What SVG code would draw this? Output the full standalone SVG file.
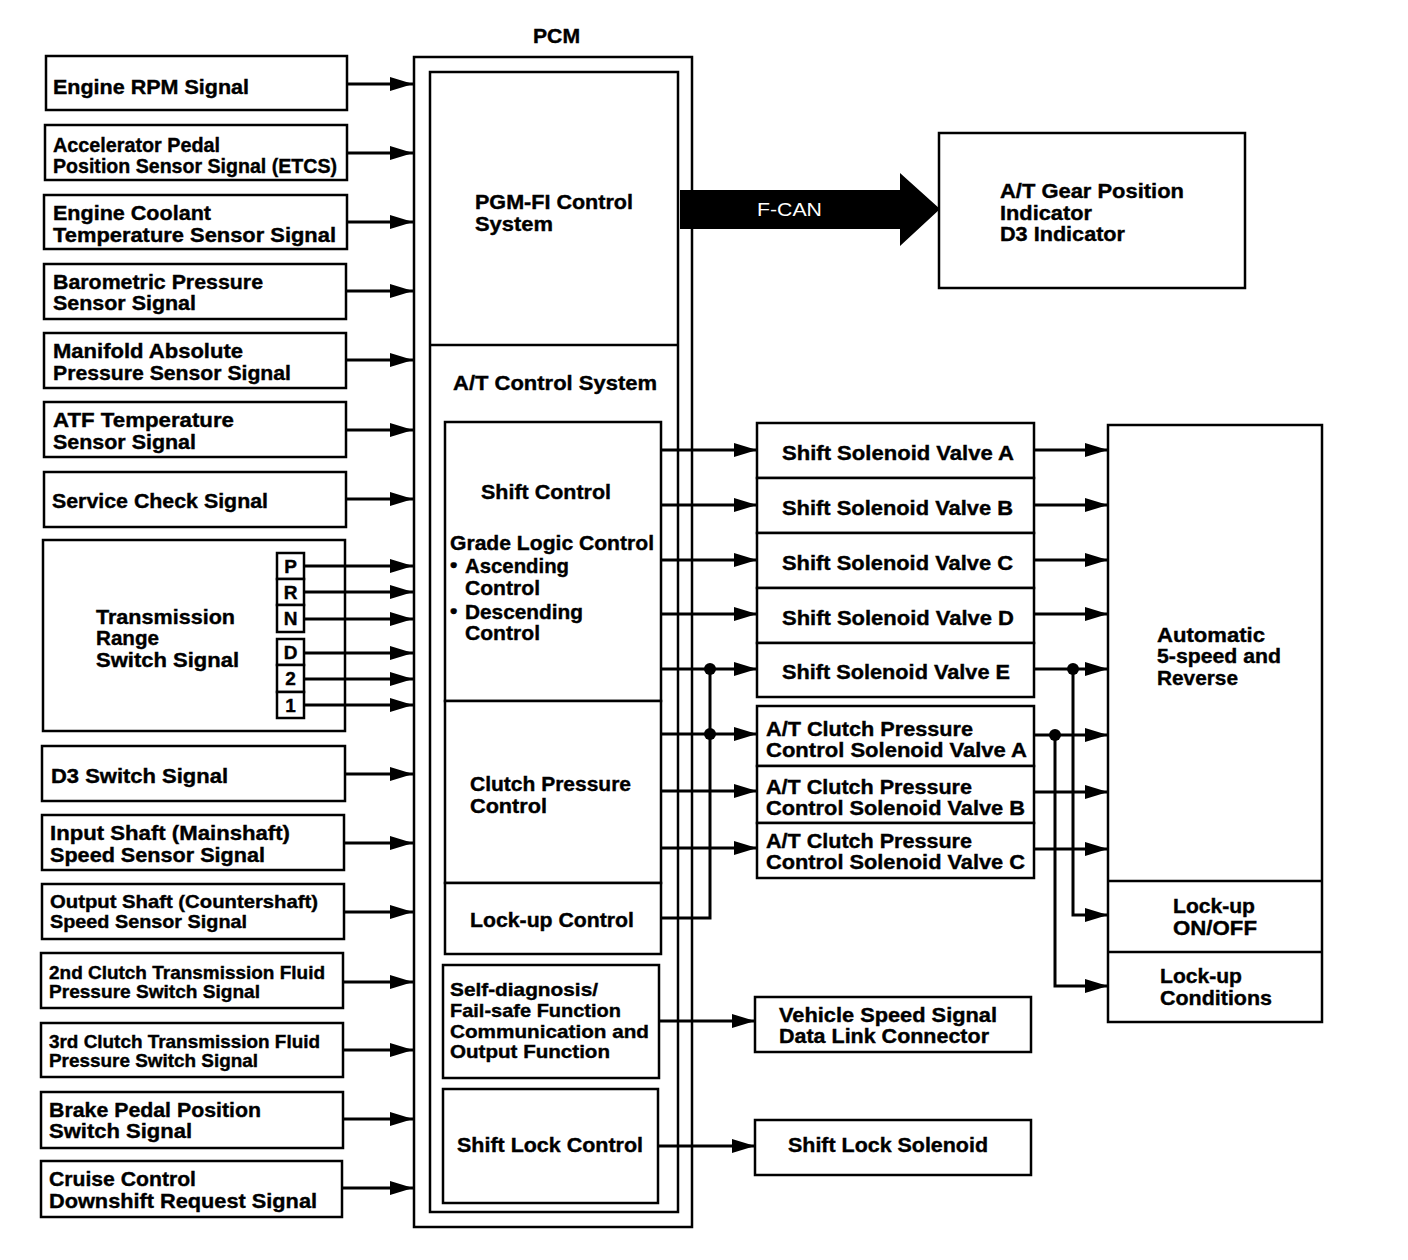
<svg xmlns="http://www.w3.org/2000/svg" width="1408" height="1260" viewBox="0 0 1408 1260">
<defs>
<style>
.box{fill:#fff;stroke:#000;stroke-width:2.5}
.ln{fill:none;stroke:#000;stroke-width:3}
.t{font-family:"Liberation Sans",Arial,Helvetica,sans-serif;font-weight:bold;font-size:21px;fill:#000;stroke:#000;stroke-width:0.4}
.s{font-size:19px}
.xs{font-size:18.5px}
.c{text-anchor:middle}
</style>
<marker id="ah" markerUnits="userSpaceOnUse" markerWidth="24" markerHeight="14" refX="23" refY="7" orient="auto">
<path d="M0,0 L23,7 L0,14 z" fill="#000"/>
</marker>
</defs>
<rect width="1408" height="1260" fill="#fff"/>

<!-- Left input nodes -->
<g id="n-engine-rpm"><rect class="box" x="46" y="56" width="301" height="54"/><text class="t" x="53" y="94" textLength="196" lengthAdjust="spacingAndGlyphs">Engine RPM Signal</text></g>
<g id="n-accel"><rect class="box" x="45" y="125" width="302" height="55"/><text class="t" x="53" y="152" textLength="167" lengthAdjust="spacingAndGlyphs">Accelerator Pedal</text><text class="t" x="53" y="173" textLength="284" lengthAdjust="spacingAndGlyphs">Position Sensor Signal (ETCS)</text></g>
<g id="n-coolant"><rect class="box" x="44" y="195" width="303" height="54"/><text class="t" x="53" y="220" textLength="158" lengthAdjust="spacingAndGlyphs">Engine Coolant</text><text class="t" x="53" y="242" textLength="283" lengthAdjust="spacingAndGlyphs">Temperature Sensor Signal</text></g>
<g id="n-baro"><rect class="box" x="44" y="264" width="302" height="55"/><text class="t" x="53" y="289" textLength="210" lengthAdjust="spacingAndGlyphs">Barometric Pressure</text><text class="t" x="53" y="310" textLength="143" lengthAdjust="spacingAndGlyphs">Sensor Signal</text></g>
<g id="n-map"><rect class="box" x="44" y="333" width="302" height="55"/><text class="t" x="53" y="358" textLength="190" lengthAdjust="spacingAndGlyphs">Manifold Absolute</text><text class="t" x="53" y="380" textLength="238" lengthAdjust="spacingAndGlyphs">Pressure Sensor Signal</text></g>
<g id="n-atf"><rect class="box" x="44" y="402" width="302" height="55"/><text class="t" x="53" y="427" textLength="181" lengthAdjust="spacingAndGlyphs">ATF Temperature</text><text class="t" x="53" y="449" textLength="143" lengthAdjust="spacingAndGlyphs">Sensor Signal</text></g>
<g id="n-service"><rect class="box" x="44" y="472" width="302" height="55"/><text class="t" x="52" y="508" textLength="216" lengthAdjust="spacingAndGlyphs">Service Check Signal</text></g>
<g id="n-trs"><rect class="box" x="43" y="540" width="302" height="191"/>
<text class="t" x="96" y="624" textLength="139" lengthAdjust="spacingAndGlyphs">Transmission</text><text class="t" x="96" y="645" textLength="63" lengthAdjust="spacingAndGlyphs">Range</text><text class="t" x="96" y="667" textLength="143" lengthAdjust="spacingAndGlyphs">Switch Signal</text>
<rect class="box" x="277" y="553" width="27" height="26"/><rect class="box" x="277" y="579" width="27" height="26"/><rect class="box" x="277" y="605" width="27" height="27"/>
<rect class="box" x="277" y="639" width="27" height="26"/><rect class="box" x="277" y="665" width="27" height="27"/><rect class="box" x="277" y="692" width="27" height="26"/>
<text class="t s c" x="290.5" y="573">P</text><text class="t s c" x="290.5" y="599">R</text><text class="t s c" x="290.5" y="625">N</text>
<text class="t s c" x="290.5" y="659">D</text><text class="t s c" x="290.5" y="685">2</text><text class="t s c" x="290.5" y="712">1</text></g>
<g id="n-d3"><rect class="box" x="42" y="746" width="303" height="55"/><text class="t" x="51" y="783" textLength="177" lengthAdjust="spacingAndGlyphs">D3 Switch Signal</text></g>
<g id="n-input"><rect class="box" x="42" y="815" width="302" height="55"/><text class="t" x="50" y="840" textLength="240" lengthAdjust="spacingAndGlyphs">Input Shaft (Mainshaft)</text><text class="t" x="50" y="862" textLength="215" lengthAdjust="spacingAndGlyphs">Speed Sensor Signal</text></g>
<g id="n-output"><rect class="box" x="42" y="884" width="302" height="55"/><text class="t s" x="50" y="908" textLength="268" lengthAdjust="spacingAndGlyphs">Output Shaft (Countershaft)</text><text class="t s" x="50" y="928" textLength="197" lengthAdjust="spacingAndGlyphs">Speed Sensor Signal</text></g>
<g id="n-2nd"><rect class="box" x="41" y="953" width="302" height="55"/><text class="t xs" x="49" y="979" textLength="276" lengthAdjust="spacingAndGlyphs">2nd Clutch Transmission Fluid</text><text class="t xs" x="49" y="998" textLength="211" lengthAdjust="spacingAndGlyphs">Pressure Switch Signal</text></g>
<g id="n-3rd"><rect class="box" x="41" y="1023" width="302" height="54"/><text class="t xs" x="49" y="1048" textLength="271" lengthAdjust="spacingAndGlyphs">3rd Clutch Transmission Fluid</text><text class="t xs" x="49" y="1067" textLength="209" lengthAdjust="spacingAndGlyphs">Pressure Switch Signal</text></g>
<g id="n-brake"><rect class="box" x="41" y="1092" width="302" height="56"/><text class="t" x="49" y="1117" textLength="212" lengthAdjust="spacingAndGlyphs">Brake Pedal Position</text><text class="t" x="49" y="1138" textLength="143" lengthAdjust="spacingAndGlyphs">Switch Signal</text></g>
<g id="n-cruise"><rect class="box" x="41" y="1161" width="301" height="56"/><text class="t" x="49" y="1186" textLength="147" lengthAdjust="spacingAndGlyphs">Cruise Control</text><text class="t" x="49" y="1208" textLength="268" lengthAdjust="spacingAndGlyphs">Downshift Request Signal</text></g>

<!-- PCM -->
<g id="n-pcm">
<text class="t" x="533" y="43" textLength="47" lengthAdjust="spacingAndGlyphs">PCM</text>
<rect class="box" x="414" y="57" width="278" height="1170"/>
<rect class="box" x="430" y="72" width="248" height="1140"/>
<line class="ln" x1="430" y1="345" x2="678" y2="345" style="stroke-width:2.5"/>
</g>
<g id="n-pgmfi"><text class="t" x="475" y="209" textLength="158" lengthAdjust="spacingAndGlyphs">PGM-FI Control</text><text class="t" x="475" y="231" textLength="78" lengthAdjust="spacingAndGlyphs">System</text></g>
<g id="n-atcs"><text class="t" x="453" y="390" textLength="204" lengthAdjust="spacingAndGlyphs">A/T Control System</text></g>
<g id="n-shiftctl"><rect class="box" x="445" y="422" width="216" height="279"/>
<text class="t" x="481" y="499" textLength="130" lengthAdjust="spacingAndGlyphs">Shift Control</text>
<text class="t" x="450" y="550" textLength="204" lengthAdjust="spacingAndGlyphs">Grade Logic Control</text>
<text class="t" x="450" y="572">•</text><text class="t" x="465" y="573" textLength="104" lengthAdjust="spacingAndGlyphs">Ascending</text>
<text class="t" x="465" y="595" textLength="75" lengthAdjust="spacingAndGlyphs">Control</text>
<text class="t" x="450" y="618">•</text><text class="t" x="465" y="619" textLength="118" lengthAdjust="spacingAndGlyphs">Descending</text>
<text class="t" x="465" y="640" textLength="75" lengthAdjust="spacingAndGlyphs">Control</text></g>
<g id="n-clutchctl"><rect class="box" x="445" y="701" width="216" height="182"/>
<text class="t" x="470" y="791" textLength="161" lengthAdjust="spacingAndGlyphs">Clutch Pressure</text><text class="t" x="470" y="813" textLength="77" lengthAdjust="spacingAndGlyphs">Control</text></g>
<g id="n-lockupctl"><rect class="box" x="445" y="883" width="216" height="71"/>
<text class="t" x="470" y="927" textLength="164" lengthAdjust="spacingAndGlyphs">Lock-up Control</text></g>
<g id="n-selfdiag"><rect class="box" x="443" y="965" width="216" height="113"/>
<text class="t s" x="450" y="996" textLength="148" lengthAdjust="spacingAndGlyphs">Self-diagnosis/</text>
<text class="t s" x="450" y="1017" textLength="171" lengthAdjust="spacingAndGlyphs">Fail-safe Function</text>
<text class="t s" x="450" y="1038" textLength="199" lengthAdjust="spacingAndGlyphs">Communication and</text>
<text class="t s" x="450" y="1058" textLength="160" lengthAdjust="spacingAndGlyphs">Output Function</text></g>
<g id="n-shiftlockctl"><rect class="box" x="443" y="1089" width="215" height="114"/>
<text class="t" x="457" y="1152" textLength="186" lengthAdjust="spacingAndGlyphs">Shift Lock Control</text></g>

<!-- Right output nodes -->
<g id="n-gear"><rect class="box" x="939" y="133" width="306" height="155"/>
<text class="t" x="1000" y="198" textLength="184" lengthAdjust="spacingAndGlyphs">A/T Gear Position</text><text class="t" x="1000" y="220" textLength="92" lengthAdjust="spacingAndGlyphs">Indicator</text><text class="t" x="1000" y="241" textLength="125" lengthAdjust="spacingAndGlyphs">D3 Indicator</text></g>
<g id="n-ssa"><rect class="box" x="757" y="423" width="277" height="55"/><text class="t" x="782" y="460" textLength="232" lengthAdjust="spacingAndGlyphs">Shift Solenoid Valve A</text></g>
<g id="n-ssb"><rect class="box" x="757" y="478" width="277" height="55"/><text class="t" x="782" y="515" textLength="231" lengthAdjust="spacingAndGlyphs">Shift Solenoid Valve B</text></g>
<g id="n-ssc"><rect class="box" x="757" y="533" width="277" height="55"/><text class="t" x="782" y="570" textLength="231" lengthAdjust="spacingAndGlyphs">Shift Solenoid Valve C</text></g>
<g id="n-ssd"><rect class="box" x="757" y="588" width="277" height="55"/><text class="t" x="782" y="625" textLength="232" lengthAdjust="spacingAndGlyphs">Shift Solenoid Valve D</text></g>
<g id="n-sse"><rect class="box" x="757" y="643" width="277" height="54"/><text class="t" x="782" y="679" textLength="228" lengthAdjust="spacingAndGlyphs">Shift Solenoid Valve E</text></g>
<g id="n-cpa"><rect class="box" x="757" y="706" width="277" height="60"/><text class="t" x="766" y="736" textLength="207" lengthAdjust="spacingAndGlyphs">A/T Clutch Pressure</text><text class="t" x="766" y="757" textLength="261" lengthAdjust="spacingAndGlyphs">Control Solenoid Valve A</text></g>
<g id="n-cpb"><rect class="box" x="757" y="766" width="277" height="57"/><text class="t" x="766" y="794" textLength="206" lengthAdjust="spacingAndGlyphs">A/T Clutch Pressure</text><text class="t" x="766" y="815" textLength="259" lengthAdjust="spacingAndGlyphs">Control Solenoid Valve B</text></g>
<g id="n-cpc"><rect class="box" x="757" y="823" width="277" height="55"/><text class="t" x="766" y="848" textLength="206" lengthAdjust="spacingAndGlyphs">A/T Clutch Pressure</text><text class="t" x="766" y="869" textLength="259" lengthAdjust="spacingAndGlyphs">Control Solenoid Valve C</text></g>
<g id="n-vss"><rect class="box" x="755" y="997" width="276" height="55"/><text class="t" x="779" y="1022" textLength="218" lengthAdjust="spacingAndGlyphs">Vehicle Speed Signal</text><text class="t" x="779" y="1043" textLength="210" lengthAdjust="spacingAndGlyphs">Data Link Connector</text></g>
<g id="n-sls"><rect class="box" x="755" y="1120" width="276" height="55"/><text class="t" x="788" y="1152" textLength="200" lengthAdjust="spacingAndGlyphs">Shift Lock Solenoid</text></g>
<g id="n-auto"><rect class="box" x="1108" y="425" width="214" height="597"/>
<line class="ln" x1="1108" y1="881" x2="1322" y2="881" style="stroke-width:2.5"/>
<line class="ln" x1="1108" y1="952" x2="1322" y2="952" style="stroke-width:2.5"/>
<text class="t" x="1157" y="642" textLength="108" lengthAdjust="spacingAndGlyphs">Automatic</text><text class="t" x="1157" y="663" textLength="124" lengthAdjust="spacingAndGlyphs">5-speed and</text><text class="t" x="1157" y="685" textLength="81" lengthAdjust="spacingAndGlyphs">Reverse</text>
<text class="t" x="1173" y="913" textLength="82" lengthAdjust="spacingAndGlyphs">Lock-up</text><text class="t" x="1173" y="935" textLength="84" lengthAdjust="spacingAndGlyphs">ON/OFF</text>
<text class="t" x="1160" y="983" textLength="82" lengthAdjust="spacingAndGlyphs">Lock-up</text><text class="t" x="1160" y="1005" textLength="112" lengthAdjust="spacingAndGlyphs">Conditions</text></g>

<!-- Connectors -->
<g id="connectors">
<g class="ln" marker-end="url(#ah)">
<path d="M347,84H413"/><path d="M347,153H413"/><path d="M347,222H413"/><path d="M346,291H413"/>
<path d="M346,360H413"/><path d="M346,430H413"/><path d="M346,499H413"/>
<path d="M304,566H413"/><path d="M304,592H413"/><path d="M304,619H413"/>
<path d="M304,653H413"/><path d="M304,679H413"/><path d="M304,705H413"/>
<path d="M345,774H413"/><path d="M344,843H413"/><path d="M344,912H413"/>
<path d="M343,982H413"/><path d="M343,1050H413"/><path d="M343,1119H413"/><path d="M342,1188H413"/>
<path d="M661,450H757"/><path d="M661,505H757"/><path d="M661,560H757"/><path d="M661,614H757"/><path d="M661,669H757"/>
<path d="M661,734H757"/><path d="M661,791H757"/><path d="M661,848H757"/>
<path d="M659,1021H755"/><path d="M658,1146H755"/>
<path d="M1034,450H1108"/><path d="M1034,505H1108"/><path d="M1034,560H1108"/><path d="M1034,614H1108"/><path d="M1034,669H1108"/>
<path d="M1034,735H1108"/><path d="M1034,792H1108"/><path d="M1034,849H1108"/>
<path d="M1073,669V915H1108"/><path d="M1055,735V986H1108"/>
</g>
<path class="ln" d="M661,918H710V669"/>
<circle cx="710" cy="669" r="6"/><circle cx="710" cy="734" r="6"/>
<circle cx="1073" cy="669" r="6"/><circle cx="1055" cy="735" r="6"/>
<g id="fcan"><polygon points="680,190 900,190 900,173 940,209 900,246 900,229 680,229" fill="#000"/>
<text x="757" y="216" textLength="65" lengthAdjust="spacingAndGlyphs" style="font-family:'Liberation Sans',Arial,sans-serif;font-size:19px;fill:#fff">F-CAN</text></g>
</g>
</svg>
